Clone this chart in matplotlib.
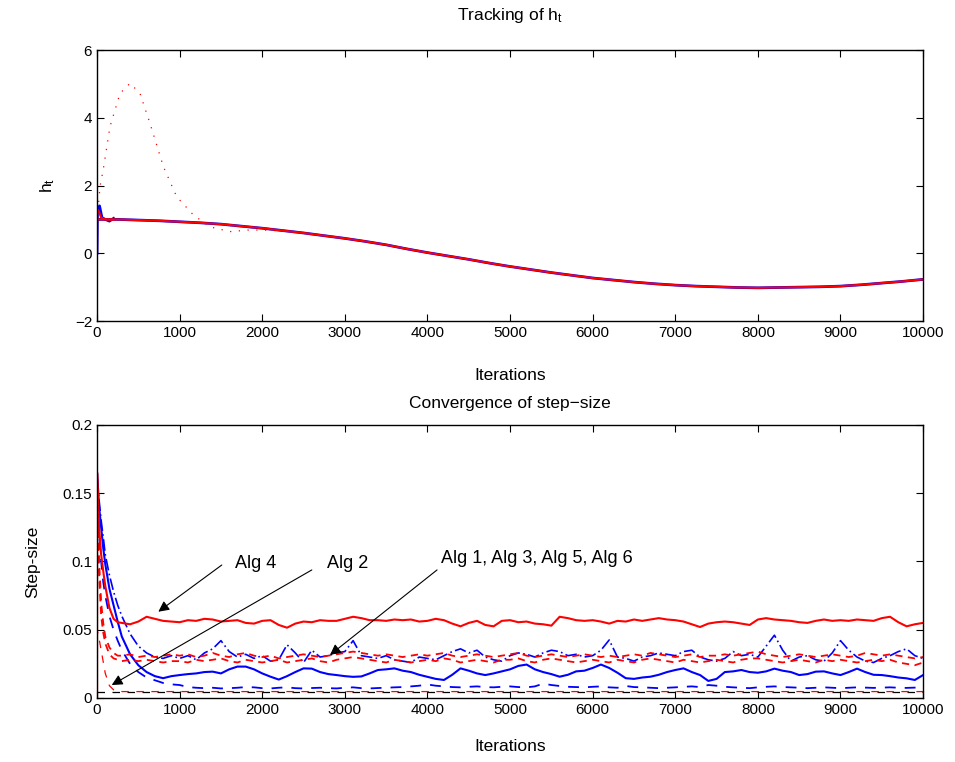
import numpy as np
import matplotlib
matplotlib.use("Agg")
import matplotlib.pyplot as plt

plt.rcParams['font.family'] = ['Liberation Sans', 'DejaVu Sans']
plt.rcParams['mathtext.fontset'] = 'custom'
plt.rcParams['mathtext.rm'] = 'Liberation Sans'
plt.rcParams['mathtext.it'] = 'Liberation Sans'

# ---------------- top panel data (tracking of h_t) ----------------
h_iters = [0, 250, 500, 750, 1000, 1250, 1500, 1750, 2000, 2250, 2500, 2750, 3000,
           3250, 3500, 3750, 4000, 4250, 4500, 4750, 5000, 5250, 5500, 5750, 6000,
           6250, 6500, 6750, 7000, 7250, 7500, 7750, 8000, 8250, 8500, 8750, 9000,
           9250, 9500, 9750, 10000]
h_track = [1.0, 1.0, 0.98, 0.96, 0.93, 0.9, 0.86, 0.8, 0.74, 0.67, 0.6, 0.52, 0.44,
           0.35, 0.25, 0.13, 0.02, -0.08, -0.18, -0.29, -0.39, -0.48, -0.57, -0.65, -0.73,
           -0.79, -0.85, -0.9, -0.94, -0.97, -0.99, -1.01, -1.02, -1.01, -1.0, -0.99, -0.97,
           -0.93, -0.88, -0.83, -0.77]
blue_start_iters = [0, 5, 30, 60, 100, 150, 200]
blue_start_vals = [0.0, 1.2, 1.4, 1.05, 1.0, 0.95, 1.03]
red_start_iters = [0, 1, 20, 50, 100, 200]
red_start_vals = [0.0, 1.3, 1.25, 1.05, 1.0, 0.99]
dot_iters = [0, 20, 36, 77, 157, 278, 400, 520, 642, 803, 964, 1167, 1368, 1610,
             1852, 2100, 2300, 2500]
dot_vals = [1.0, 1.5, 1.97, 2.5, 3.74, 4.72, 5.02, 4.72, 3.83, 2.56, 1.67, 1.13, 0.78, 0.64,
            0.69, 0.68, 0.64, 0.6]

# ---------------- bottom panel data (step-size) ----------------
early_iters = [0, 1, 25, 50, 75, 100, 150, 200, 250, 300, 400, 500, 600, 700, 800, 900]
late_iters = list(range(1000, 10001, 100))

alg4 = [0.0, 0.165, 0.125, 0.105, 0.093, 0.082, 0.066, 0.058, 0.0555, 0.055, 0.054, 0.056,
        0.0595, 0.058, 0.0565, 0.056,
        .0555, .057, .0565, .058, .0575, .056, .0565, .057, .055, .0545,
        .0565, .057, .0535, .0515, .0545, .056, .0555, .057, .0565, .0565,
        .058, .0595, .0585, .057, .057, .0565, .0575, .057, .0575, .056,
        .0565, .058, .057, .0545, .0525, .055, .0565, .0535, .0525, .0565,
        .057, .0555, .056, .0545, .054, .053, .0595, .0585, .057, .0565,
        .057, .056, .0545, .0565, .056, .0575, .0565, .0575, .0585, .0575,
        .057, .056, .054, .052, .0545, .0555, .056, .0555, .0545, .0535,
        .0575, .0585, .0575, .057, .0565, .0555, .055, .0565, .0575, .0565,
        .057, .0565, .0575, .057, .0565, .0585, .0595, .0555, .0525, .054, .055]

red_dash_a = [0.16, 0.16, 0.1, 0.07, 0.055, 0.045, 0.037, 0.033, 0.031, 0.031, 0.032, 0.03,
              0.031, 0.03, 0.031, 0.032,
              .031, .032, .030, .031, .033, .031, .030, .032, .033, .031,
              .030, .031, .029, .030, .031, .032, .031, .030, .031, .032,
              .033, .034, .033, .032, .031, .032, .031, .030, .031, .032,
              .031, .032, .033, .031, .030, .031, .032, .031, .030, .031,
              .032, .033, .031, .030, .031, .032, .031, .030, .031, .032,
              .031, .030, .031, .030, .031, .032, .031, .033, .032, .031,
              .030, .031, .032, .030, .031, .031, .032, .031, .032, .033,
              .034, .032, .031, .030, .031, .032, .031, .030, .031, .032,
              .031, .030, .031, .033, .032, .031, .032, .031, .030, .029, .030]

red_dash_b = [0.15, 0.15, 0.09, 0.06, 0.048, 0.04, 0.032, 0.029, 0.028, 0.027, 0.028, 0.027,
              0.028, 0.027, 0.026, 0.027,
              .027, .026, .028, .027, .028, .029, .027, .026, .028, .027,
              .026, .027, .028, .026, .027, .028, .029, .027, .026, .028,
              .029, .030, .029, .028, .027, .026, .028, .027, .026, .027,
              .028, .027, .029, .028, .026, .027, .028, .027, .026, .028,
              .028, .029, .027, .026, .028, .029, .028, .027, .026, .027,
              .028, .027, .026, .028, .027, .026, .028, .029, .028, .027,
              .026, .028, .027, .026, .027, .028, .027, .026, .028, .029,
              .029, .028, .027, .026, .027, .028, .027, .026, .028, .027,
              .028, .027, .026, .027, .028, .027, .028, .026, .025, .024, .026]

blue_solid = [0.165, 0.165, 0.14, 0.125, 0.11, 0.098, 0.08, 0.068, 0.056, 0.045, 0.032, 0.024,
              0.019, 0.016, 0.0145, 0.016,
              .0168, .0175, .018, .019, .0193, .018, .021, .023, .023, .021,
              .018, .0156, .0135, .016, .019, .0217, .0215, .019, .0175, .0168,
              .016, .0155, .0158, .018, .0205, .021, .0217, .02, .019, .017,
              .0155, .014, .0132, .017, .0217, .02, .018, .0168, .018, .0195,
              .021, .0235, .0245, .021, .019, .0175, .0156, .017, .0195, .02,
              .022, .0245, .022, .0185, .0145, .014, .015, .0156, .017, .019,
              .0205, .0217, .019, .0168, .0125, .014, .019, .0195, .0205, .019,
              .0185, .0195, .0215, .02, .019, .0168, .0175, .0193, .0195, .018,
              .0168, .019, .0215, .019, .017, .0168, .016, .015, .0144, .0132, .0168]

blue_upper = [0.16, 0.16, 0.145, 0.13, 0.118, 0.105, 0.09, 0.078, 0.068, 0.06, 0.047, 0.038,
              0.033, 0.03, 0.029, 0.031,
              .029, .031, .028, .033, .036, .042, .034, .030, .032, .029,
              .031, .027, .028, .039, .033, .026, .035, .030, .031, .033,
              .034, .042, .031, .030, .029, .031, .028, .027, .026, .030,
              .029, .028, .031, .034, .036, .033, .035, .030, .028, .027,
              .031, .033, .032, .030, .033, .035, .034, .031, .032, .030,
              .031, .035, .0425, .030, .029, .027, .030, .031, .033, .032,
              .031, .034, .035, .030, .028, .027, .029, .034, .031, .032,
              .030, .038, .046, .035, .027, .030, .031, .028, .027, .033,
              .042, .035, .030, .027, .026, .029, .031, .034, .036, .031, .029]

blue_dash = [0.16, 0.16, 0.12, 0.1, 0.085, 0.075, 0.06, 0.05, 0.042, 0.035, 0.025, 0.019,
             0.015, 0.013, 0.011, 0.01,
             .0095, .008, .0075, .0072, .0075, .007, .0072, .0075, .008, .0078,
             .0072, .007, .0075, .0078, .0072, .007, .0073, .0075, .0072, .007,
             .0075, .0078, .0072, .007, .0073, .0075, .0078, .008, .0085, .009,
             .0099, .009, .0085, .008, .0078, .0082, .0085, .008, .0078, .0082,
             .0085, .008, .0078, .0085, .0105, .0095, .0088, .0082, .008, .0078,
             .0082, .0085, .0078, .0075, .0088, .008, .0078, .0075, .0072, .0075,
             .0078, .0082, .0085, .008, .0095, .009, .0082, .0078, .0075, .0072,
             .0078, .0082, .0085, .008, .0078, .0075, .0072, .0075, .0078, .0075,
             .0072, .0075, .0078, .0076, .0074, .0076, .0078, .0075, .0074, .0076, .0075]

red_dot_iters = [0, 20, 50, 100, 150, 200, 300, 10000]
red_dot_vals = [0.05, 0.045, 0.035, 0.018, 0.009, 0.006, 0.0047, 0.0047]
alg2_iters = [0, 10000]
alg2_vals = [0.0045, 0.0045]

xticks = list(range(0, 10001, 1000))
top_yticks = [-2, 0, 2, 4, 6]
bot_yticks = [0, 0.05, 0.1, 0.15, 0.2]
bot_yticklabels = ['0', '0.05', '0.1', '0.15', '0.2']

# ---------------- figure ----------------
fig = plt.figure(figsize=(9.55, 7.62), dpi=100)
ax1 = fig.add_axes([0.1016, 0.5787, 0.865, 0.3556])
ax2 = fig.add_axes([0.1016, 0.0840, 0.865, 0.3583])

fs = 11
lfs = 12.5
for ax in (ax1, ax2):
    ax.tick_params(direction='in', top=True, right=True, length=5, width=0.8, labelsize=fs)
    for s in ax.spines.values():
        s.set_linewidth(1.0)
    ax.set_xlim(0, 10000)
    ax.set_xticks(xticks)

# top
ax1.plot(h_iters, h_track, color='blue', lw=2.0)
ax1.plot(blue_start_iters, blue_start_vals, color='blue', lw=2.0)
ax1.plot(dot_iters, dot_vals, color='red', lw=0.9, ls=(0, (1, 6)))
ax1.plot(h_iters, h_track, color='red', lw=1.5)
ax1.plot(red_start_iters, red_start_vals, color='red', lw=1.5)
ax1.set_ylim(-2, 6)
ax1.set_yticks(top_yticks)
ax1.set_xlabel('Iterations', fontsize=lfs, labelpad=20)
ax1.set_ylabel(r'h$_\mathregular{t}$', fontsize=lfs, labelpad=13)
ax1.set_title(r'Tracking of h$_\mathregular{t}$', fontsize=lfs, pad=22)

# bottom
all_iters = early_iters + late_iters
ax2.plot(alg2_iters, alg2_vals, color='black', lw=0.9, ls=(0, (6, 6)))
ax2.plot(red_dot_iters, red_dot_vals, color='red', lw=0.9, ls=(3, (6, 6)))
ax2.plot(all_iters, blue_dash, color='blue', lw=1.3, ls=(0, (6, 5)))
ax2.plot(all_iters, blue_upper, color='blue', lw=1.2, ls=(0, (7, 2, 1, 2)))
ax2.plot(all_iters, blue_solid, color='blue', lw=1.5)
ax2.plot(all_iters, red_dash_b, color='red', lw=1.3, ls=(0, (4, 3)))
ax2.plot(all_iters, red_dash_a, color='red', lw=1.3, ls=(0, (4, 3)))
ax2.plot(all_iters, alg4, color='red', lw=1.5)
ax2.set_ylim(0, 0.2)
ax2.set_yticks(bot_yticks)
ax2.set_yticklabels(bot_yticklabels)
ax2.set_xlabel('Iterations', fontsize=lfs, labelpad=16)
ax2.set_ylabel('Step-size', fontsize=lfs, labelpad=16)
ax2.set_title('Convergence of step\u2212size', fontsize=lfs, pad=12)

afs = 13
arrow = dict(arrowstyle='-|>', color='black', lw=0.8, mutation_scale=16, shrinkA=0, shrinkB=0)
ax2.annotate('', xy=(742, 0.0632), xytext=(1510, 0.0974), arrowprops=arrow)
ax2.text(1670, 0.0985, 'Alg 4', fontsize=afs, va='center', ha='left')
ax2.annotate('', xy=(178, 0.0095), xytext=(2600, 0.0938), arrowprops=arrow)
ax2.text(2780, 0.0985, 'Alg 2', fontsize=afs, va='center', ha='left')
ax2.annotate('', xy=(2820, 0.0315), xytext=(4116, 0.0938), arrowprops=arrow)
ax2.text(4165, 0.1025, 'Alg 1, Alg 3, Alg 5, Alg 6', fontsize=afs, va='center', ha='left')

fig.savefig('out.png', dpi=100)
